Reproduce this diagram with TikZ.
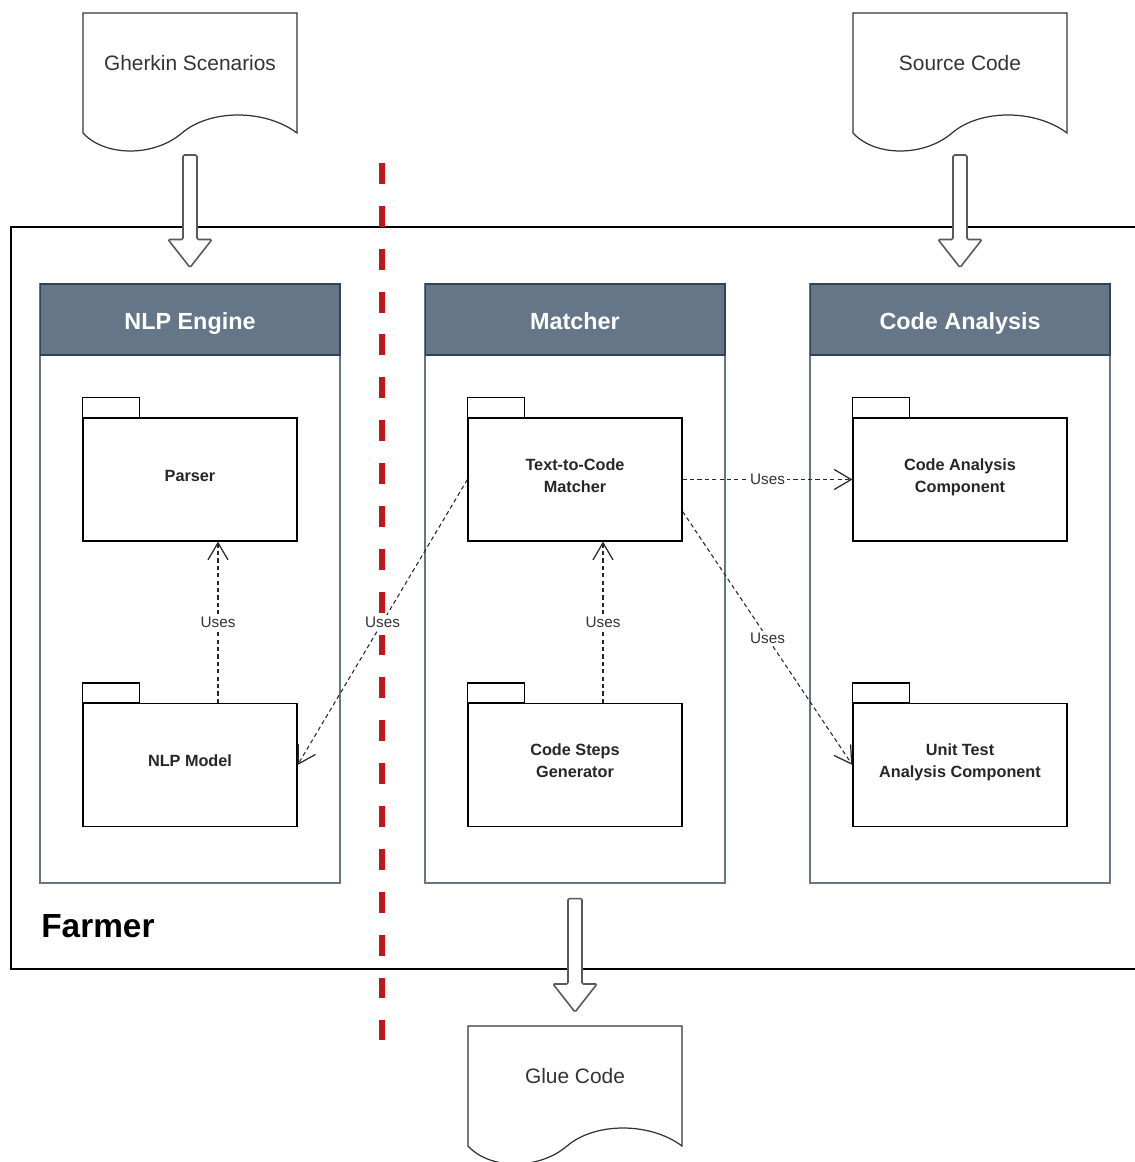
\documentclass[tikz,border=0pt]{standalone}
\usepackage{fontspec}
\setmainfont{Liberation Sans}
\usetikzlibrary{arrows.meta,calc}

\definecolor{lanefill}{HTML}{647687}
\definecolor{laneline}{HTML}{314354}
\definecolor{divider}{HTML}{C0161C}
\definecolor{txtgray}{HTML}{333333}

\newcommand{\docshape}[1]{%
  \draw[docline] ($(#1)+(-107,-50)$) -- ($(#1)+(107,-50)$) -- ($(#1)+(107,70)$)
    .. controls ($(#1)+(75,46)$) and ($(#1)+(20,46)$) .. ($(#1)+(-8,70)$)
    .. controls ($(#1)+(-36,94)$) and ($(#1)+(-85,94)$) .. ($(#1)+(-107,70)$) -- cycle;}

\newcommand{\fatarrow}[2]{%
  \draw[fat] ($(#1)+(-7,0)$) -- ($(#2)+(-7,-28)$) -- ($(#2)+(-22,-28)$) -- (#2)
    -- ($(#2)+(22,-28)$) -- ($(#2)+(7,-28)$) -- ($(#1)+(7,0)$) -- cycle;}

\begin{document}
\begin{tikzpicture}[x=0.02cm,y=-0.02cm,
    docline/.style={draw=black!80,line width=0.7pt},
    fat/.style={draw=black!65,line width=0.9pt,fill=white,rounded corners=0.8pt},
    lanebody/.style={draw=lanefill,line width=0.8pt,minimum width=6cm,minimum height=11.98cm},
    lane/.style={draw=laneline,fill=lanefill,text=white,line width=0.6pt,text height=11.7pt,text depth=0pt,
      font=\bfseries\fontsize{13.3}{16}\selectfont,minimum width=6cm,minimum height=1.42cm},
    pkg/.style={draw,line width=0.7pt,fill=white,minimum width=4.28cm,minimum height=2.46cm,
      align=center,text depth=4.5pt,text=black!85,font=\bfseries\fontsize{9.25}{12.5}\selectfont},
    uses/.style={fill=white,inner sep=1pt,text=txtgray,font=\fontsize{8.7}{10}\selectfont},
    dep/.style={draw=black!85,line width=0.6pt,dash pattern=on 2.4pt off 1.8pt,
      -{Straight Barb[length=0.34cm,width=0.4cm,line width=0.7pt]}}]

\useasboundingbox (0,0) rectangle (1134,1162);

\draw[line width=0.7pt] (11,227) rectangle (1150,969);
\node[anchor=base west,inner sep=0pt,font=\bfseries\fontsize{19}{22}\selectfont] (farmer) at (41,937) {Farmer};

\node[lanebody] (nlpbox) at (190,583.5) {};
\node[lanebody] (matcherbox) at (575,583.5) {};
\node[lanebody] (analysisbox) at (960,583.5) {};
\node[lane] (nlp) at (190,319.5) {NLP Engine};
\node[lane] (matcher) at (575,319.5) {Matcher};
\node[lane] (analysis) at (960,319.5) {Code Analysis};

\node[pkg] (parser) at (190,479.5) {Parser};
\node[pkg] (model) at (190,765) {NLP Model};
\node[pkg] (t2c) at (575,479.5) {Text-to-Code\\Matcher};
\node[pkg] (steps) at (575,765) {Code Steps\\Generator};
\node[pkg] (cac) at (960,479.5) {Code Analysis\\Component};
\node[pkg] (utac) at (960,765) {Unit Test\\Analysis Component};
\foreach \p in {parser,model,t2c,steps,cac,utac}
  \draw[line width=0.7pt] (\p.north west) rectangle ++(57,-20);

\draw[divider,line width=3.4pt,dash pattern=on 11.9pt off 12.5pt] (382,163) -- (382,1040);

\draw[dep] ([xshift=0.56cm]model.north) -- node[uses]{Uses} ([xshift=0.56cm]parser.south);
\draw[dep] ([xshift=0.56cm]steps.north) -- node[uses]{Uses} ([xshift=0.56cm]t2c.south);
\draw[dep] (t2c.east) -- node[uses]{Uses} (cac.west);
\draw[dep] ([yshift=-0.64cm]t2c.east) -- node[uses]{Uses} (utac.west);
\draw[dep] (t2c.west) -- node[uses]{Uses} (model.east);

\node[text=txtgray,font=\fontsize{11.9}{14}\selectfont] (gherkin) at (190,63) {Gherkin Scenarios};
\node[text=txtgray,font=\fontsize{11.9}{14}\selectfont] (source) at (960,63) {Source Code};
\node[text=txtgray,font=\fontsize{11.9}{14}\selectfont] (glue) at (575,1076) {Glue Code};
\docshape{gherkin}
\docshape{source}
\docshape{glue}

\coordinate (gin) at ($(gherkin)+(0,92)$);
\coordinate (gout) at ($(nlp.north)+(0,-16)$);
\coordinate (sin) at ($(source)+(0,92)$);
\coordinate (sout) at ($(analysis.north)+(0,-16)$);
\coordinate (min) at ($(matcherbox.south)+(0,15)$);
\coordinate (mout) at ($(glue)+(0,-64)$);
\fatarrow{gin}{gout}
\fatarrow{sin}{sout}
\fatarrow{min}{mout}
\end{tikzpicture}
\end{document}
